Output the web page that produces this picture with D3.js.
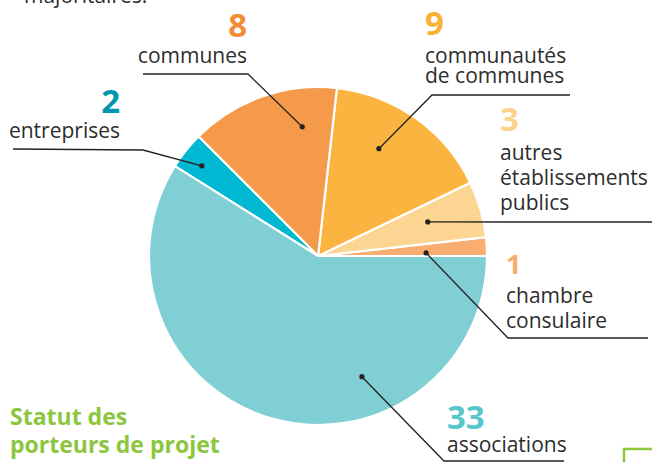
<!DOCTYPE html>
<html lang="fr">
<head>
<meta charset="UTF-8"/>
<title>Statut des porteurs de projet</title>
<script src="https://d3js.org/d3.v7.min.js"></script>
<style>
    body { margin: 0; background: #fff; }
    svg text { font-family: "Open Sans", sans-serif; }
</style>
</head>
<body>
<script>
// data, counter-clockwise from 3 o'clock
var categories = ["chambre", "autres", "communautes", "communes", "entreprises", "associations"];
var values = [1, 3, 9, 8, 2, 33];
var labelLines = [
    ["chambre", "consulaire"],
    ["autres", "établissements", "publics"],
    ["communautés", "de communes"],
    ["communes"],
    ["entreprises"],
    ["associations"]
];

var sliceColors = ["#f9ad70", "#fdd592", "#fbb440", "#f59a4a", "#00b8d1", "#80cfd4"];
var numberColors = ["#f9ab6b", "#fdd28b", "#fbb034", "#f28c36", "#0097ae", "#56c5cc"];

// where each annotation goes (anchor on slice, leader path, text block)
var layout = {
    chambre:      {frac: 0.25, rr: 0.64, path: [[508, 338], [648, 338]], x: 506, anchor: "start", num: 274, lines: [303, 328], numSize: 27},
    autres:       {frac: 0.56, rr: 0.68, path: [[652, 222]], x: 500, anchor: "start", num: 131, lines: [160, 185, 210]},
    communautes:  {frac: 0.60, rr: 0.73, path: [[432, 95], [570, 95]], x: 425, anchor: "start", num: 35, lines: [63, 83]},
    communes:     {frac: 0.26, rr: 0.77, path: [[248, 74], [143, 74]], x: 247, anchor: "end", num: 37, lines: [63]},
    entreprises:  {frac: 0.56, rr: 0.87, path: [[143, 150], [13, 149]], x: 120, anchor: "end", num: 113, lines: [138]},
    associations: {frac: 0.67, rr: 0.76, path: [[444, 461], [564, 461]], x: 447, anchor: "start", num: 429, lines: [452]}
};

var w = 652, h = 462;
var cx = 318, cy = 256, r = 169;

var svg = d3.select("body").append("svg")
    .attr("width", w)
    .attr("height", h);

var color = d3.scaleOrdinal().domain(categories).range(sliceColors);
var numColor = d3.scaleOrdinal().domain(categories).range(numberColors);

var pie = d3.pie()
    .sort(null)
    .value(function(d, i){ return values[i]; })
    .startAngle(Math.PI / 2)
    .endAngle(Math.PI / 2 - 2 * Math.PI);

var arc = d3.arc().innerRadius(0).outerRadius(r);

var arcs = pie(categories);

var g = svg.append("g").attr("transform", "translate(" + cx + "," + cy + ")");

g.selectAll("path.slice")
    .data(arcs)
    .enter()
    .append("path")
    .attr("class", "slice")
    .attr("d", arc)
    .style("fill", function(d){ return color(d.data); })
    .style("stroke", "#fff")
    .style("stroke-width", 2.2)
    .style("stroke-linejoin", "round");

// anchor point on a slice
function anchorPoint(d){
    var L = layout[d.data];
    var a = d.startAngle + L.frac * (d.endAngle - d.startAngle);
    var rad = L.rr * r;
    return [cx + Math.sin(a) * rad, cy - Math.cos(a) * rad];
}

var line = d3.line();

svg.selectAll("path.leader")
    .data(arcs)
    .enter()
    .append("path")
    .attr("class", "leader")
    .attr("d", function(d){
        return line([anchorPoint(d)].concat(layout[d.data].path));
    })
    .style("fill", "none")
    .style("stroke", "#222")
    .style("stroke-width", 1.3);

svg.selectAll("circle.dot")
    .data(arcs)
    .enter()
    .append("circle")
    .attr("class", "dot")
    .attr("cx", function(d){ return anchorPoint(d)[0]; })
    .attr("cy", function(d){ return anchorPoint(d)[1]; })
    .attr("r", 2.6)
    .style("fill", "#222");

// numbers
svg.selectAll("text.num")
    .data(arcs)
    .enter()
    .append("text")
    .attr("class", "num")
    .attr("x", function(d){ return layout[d.data].x; })
    .attr("y", function(d){ return layout[d.data].num; })
    .attr("text-anchor", function(d){ return layout[d.data].anchor; })
    .style("font-size", function(d){ return (layout[d.data].numSize || 33) + "px"; })
    .style("font-weight", "bold")
    .style("fill", function(d){ return numColor(d.data); })
    .text(function(d){ return d.value; });

// category names
arcs.forEach(function(d, i){
    var L = layout[d.data];
    labelLines[i].forEach(function(t, j){
        svg.append("text")
            .attr("x", L.x)
            .attr("y", L.lines[j])
            .attr("text-anchor", L.anchor)
            .style("font-size", "21px")
            .style("fill", "#2d2d2d")
            .text(t);
    });
});

// cut-off text from above
svg.append("text")
    .attr("x", 24)
    .attr("y", 3)
    .style("font-size", "21px")
    .style("fill", "#2d2d2d")
    .text("majoritaires.");

// title
svg.append("text")
    .attr("x", 10)
    .attr("y", 425)
    .style("font-size", "23px")
    .style("font-weight", "bold")
    .style("fill", "#8cc63e")
    .text("Statut des");
svg.append("text")
    .attr("x", 10)
    .attr("y", 453)
    .style("font-size", "23px")
    .style("font-weight", "bold")
    .style("fill", "#8cc63e")
    .text("porteurs de projet");

// corner of the next green box
svg.append("path")
    .attr("d", "M624,462V449H652")
    .style("fill", "none")
    .style("stroke", "#8dc63f")
    .style("stroke-width", 2.5);
</script>
</body>
</html>
